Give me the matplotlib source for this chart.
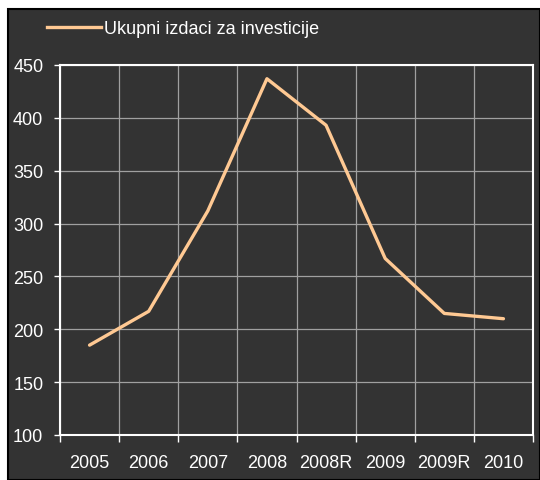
import matplotlib
matplotlib.use("Agg")
import matplotlib.pyplot as plt
from matplotlib.patches import Rectangle
from matplotlib.lines import Line2D

years = ["2005", "2006", "2007", "2008", "2008R", "2009", "2009R", "2010"]
investicije = [185, 217, 312, 437, 393, 267, 215, 210]
series_name = "Ukupni izdaci za investicije"

bg = "#333333"
line_col = "#FFC993"
grid_col = "#A0A0A0"

plt.rcParams["font.family"] = ["Liberation Sans", "DejaVu Sans"]

fig = plt.figure(figsize=(5.4, 4.81), dpi=100)
fig.patch.set_facecolor("white")
# dark panel with black border, behind the axes
fig.patches.append(Rectangle((8 / 540, 0), 1 - 8 / 540, 1 - 10 / 481,
                             transform=fig.transFigure, facecolor=bg,
                             edgecolor="black", linewidth=1.5, zorder=-5))

ax = fig.add_axes([60 / 540, 1 - 436 / 481, 473 / 540, 370 / 481])
ax.set_facecolor(bg)

x = list(range(len(years)))
ax.plot(x, investicije, color=line_col, linewidth=2.4, solid_capstyle="round", zorder=3)

ax.set_xlim(-0.5, len(years) - 0.5)
ax.set_ylim(100, 450)
ax.set_yticks(range(100, 451, 50))
ax.set_xticks([i - 0.5 for i in range(len(years) + 1)])
ax.set_xticklabels([])
ax.set_xticks(x, minor=True)
ax.set_xticklabels(years, minor=True)
ax.tick_params(axis="x", which="minor", length=0, pad=14, colors="white", labelsize=13)
ax.tick_params(axis="x", which="major", length=5, color="white", width=1)
ax.tick_params(axis="y", length=4.5, color="white", width=1, labelcolor="white",
               labelsize=13, pad=7.5)

ax.grid(True, which="major", color=grid_col, linewidth=0.9)
ax.set_axisbelow(True)
for side in ["left", "bottom", "top", "right"]:
    ax.spines[side].set_color("white")
    ax.spines[side].set_linewidth(1.5)

fig.legend(handles=[Line2D([0], [0], color=line_col, linewidth=2.4)],
           labels=[series_name], loc="upper left",
           bbox_to_anchor=(31 / 540, 1 - 5 / 481), frameon=False,
           labelcolor="white", fontsize=13, handlelength=3.0, handletextpad=0.15)

fig.savefig("out.png", dpi=100, facecolor=fig.get_facecolor())
